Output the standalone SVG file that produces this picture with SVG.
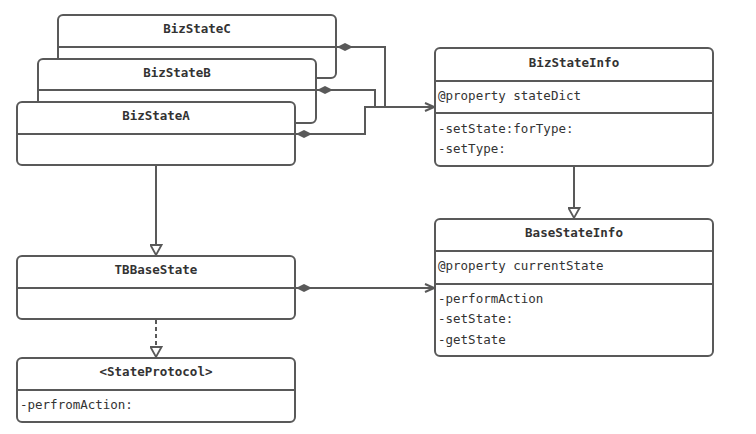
<svg xmlns="http://www.w3.org/2000/svg" width="756" height="434" viewBox="0 0 756 434">
<style>
.box{fill:#fff;stroke:#595959;stroke-width:2}
.div{stroke:#595959;stroke-width:2;fill:none}
.t{font-family:"DejaVu Sans Mono","Liberation Mono",monospace;font-size:12.5px;fill:#333}
.b{font-weight:bold;text-anchor:middle}
.c{fill:none;stroke:#595959;stroke-width:2}
</style>
<defs>
<marker id="dia" viewBox="-1 -1 18 10" refX="0" refY="4" markerUnits="userSpaceOnUse" markerWidth="18" markerHeight="10" orient="auto"><path d="M0,4 L8,0 L16,4 L8,8 Z" fill="#595959"/></marker>
<marker id="open" viewBox="-1 -1 11 10" refX="9" refY="4" markerUnits="userSpaceOnUse" markerWidth="11" markerHeight="10" orient="auto"><path d="M0,0 L9,4 L0,8" fill="none" stroke="#595959" stroke-width="2"/></marker>
<marker id="tri" viewBox="-1 -1 13 13" refX="10" refY="5.5" markerUnits="userSpaceOnUse" markerWidth="13" markerHeight="13" orient="auto"><path d="M0,0 L10,5.5 L0,11 Z" fill="#fff" stroke="#595959" stroke-width="1.8"/></marker>
</defs>
<g id="BizStateC">
<rect class="box" x="58" y="15" width="278" height="63" rx="5"/>
<line class="div" x1="58" y1="47" x2="336" y2="47"/>
<text class="t b" x="197" y="33">BizStateC</text>
</g>
<g id="BizStateB">
<rect class="box" x="38" y="59" width="278" height="64" rx="5"/>
<line class="div" x1="38" y1="90" x2="316" y2="90"/>
<text class="t b" x="177" y="77">BizStateB</text>
</g>
<g id="BizStateA">
<rect class="box" x="17" y="102" width="278" height="63" rx="5"/>
<line class="div" x1="17" y1="134" x2="295" y2="134"/>
<text class="t b" x="156" y="120">BizStateA</text>
</g>
<g id="BizStateInfo">
<rect class="box" x="435" y="48" width="278" height="118" rx="5"/>
<line class="div" x1="435" y1="81" x2="713" y2="81"/>
<line class="div" x1="435" y1="113" x2="713" y2="113"/>
<text class="t b" x="574" y="67">BizStateInfo</text>
<text class="t" x="438" y="100">@property stateDict</text>
<text class="t" x="438" y="133">-setState:forType:</text>
<text class="t" x="438" y="153">-setType:</text>
</g>
<g id="BaseStateInfo">
<rect class="box" x="435" y="219" width="278" height="137" rx="5"/>
<line class="div" x1="435" y1="251" x2="713" y2="251"/>
<line class="div" x1="435" y1="284" x2="713" y2="284"/>
<text class="t b" x="574" y="237">BaseStateInfo</text>
<text class="t" x="438" y="270">@property currentState</text>
<text class="t" x="438" y="303">-performAction</text>
<text class="t" x="438" y="323">-setState:</text>
<text class="t" x="438" y="344">-getState</text>
</g>
<g id="TBBaseState">
<rect class="box" x="17" y="256" width="278" height="63" rx="5"/>
<line class="div" x1="17" y1="288" x2="295" y2="288"/>
<text class="t b" x="156" y="274">TBBaseState</text>
</g>
<g id="StateProtocol">
<rect class="box" x="17" y="358" width="278" height="64" rx="5"/>
<line class="div" x1="17" y1="390" x2="295" y2="390"/>
<text class="t b" x="156" y="376">&lt;StateProtocol&gt;</text>
<text class="t" x="20" y="409">-perfromAction:</text>
</g>
<g id="connectors">
<path class="c" d="M337,47 H385 V107" marker-start="url(#dia)"/>
<path class="c" d="M317,90 H375 V107" marker-start="url(#dia)"/>
<path class="c" d="M296,134 H365 V107 H434" marker-start="url(#dia)" marker-end="url(#open)"/>
<path class="c" d="M574,166 V218" marker-end="url(#tri)"/>
<path class="c" d="M156,165 V255" marker-end="url(#tri)"/>
<path class="c" d="M296,288 H434" marker-start="url(#dia)" marker-end="url(#open)"/>
<path class="c" d="M156,320 V357" stroke-dasharray="4,3" marker-end="url(#tri)"/>
</g>
</svg>
